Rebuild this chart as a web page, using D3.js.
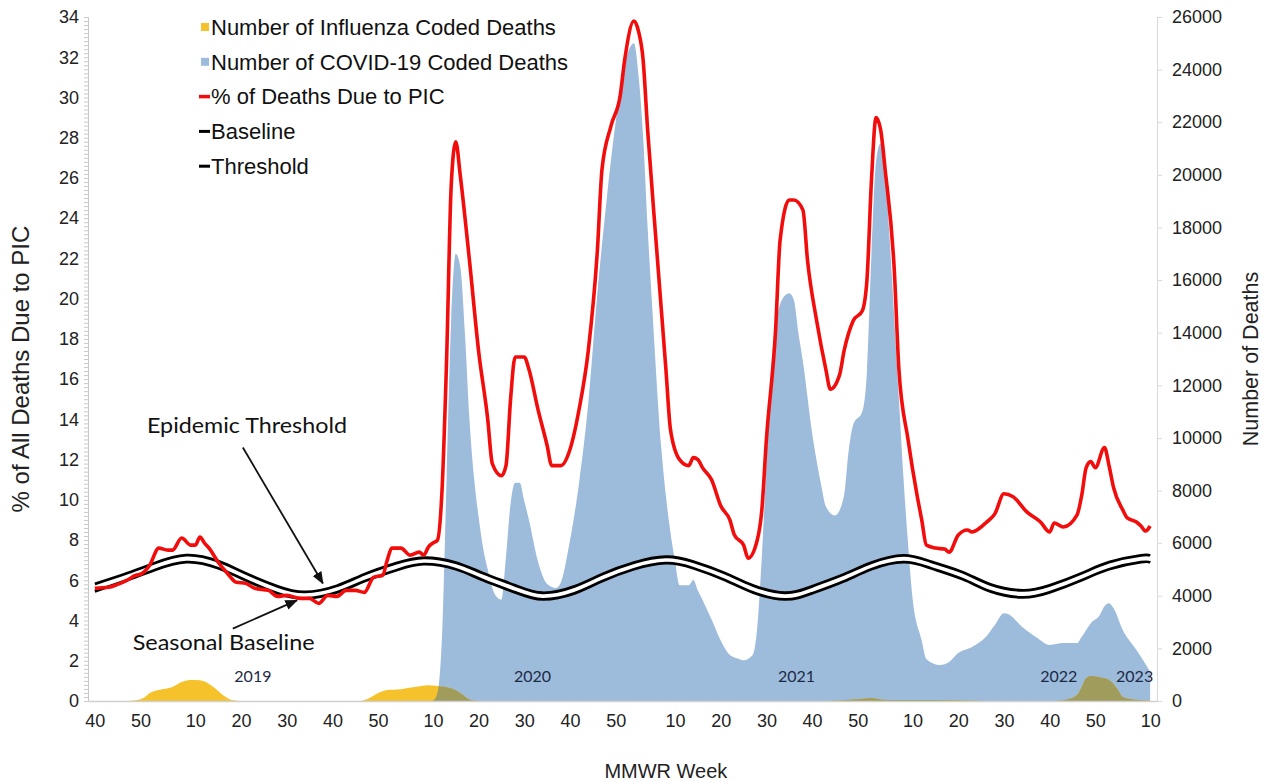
<!DOCTYPE html>
<html><head><meta charset="utf-8">
<script src="https://cdn.jsdelivr.net/npm/d3@7"></script>
<style>
body{margin:0;background:#fff}
svg{display:block}
svg{font-family:"Liberation Sans",Arial,sans-serif}
.calibri{font-family:Lato,"Open Sans",sans-serif}
</style>
</head><body><svg id="c" width="1270" height="782"></svg>
<script>
// Week index 0 = MMWR week 40 of 2018; 2019w1 = 13, 2020w1 = 65, 2021w1 = 118, 2022w1 = 170, 2023w1 = 222
const xTickWeeks = [0,10,22,32,42,52,62,74,84,94,104,114,127,137,147,157,167,179,189,199,209,219,231];
const xTickLabels = ["40","50","10","20","30","40","50","10","20","30","40","50","10","20","30","40","50","10","20","30","40","50","10"];
const leftTicks = [0,2,4,6,8,10,12,14,16,18,20,22,24,26,28,30,32,34];
const rightTicks = [0,2000,4000,6000,8000,10000,12000,14000,16000,18000,20000,22000,24000,26000];

const picWeek = [0,3,5,7,9,10,12,14,16,17,19,21,22,23,24,25,27,29,31,33,35,38,40,42,45,47,49,51,53,55,57,59,61,63,64,65,67,69,71,72,73,74,75,76,77,78,79,80,82,84,86,87,89,90,91,92,94,95,97,99,100,102,104,106,108,110,111,113,115,116,118,119,120,121,123,125,126,128,130,131,132,133,135,137,139,140,142,143,145,146,147,149,150,152,153,155,156,158,160,161,163,164,166,168,169,170,171,172,173,175,176,178,180,181,182,184,186,187,189,191,192,194,195,197,199,201,204,207,209,210,212,215,216,217,218,219,221,222,223,225,226,228,229,230,231];
const picPct = [5.6,5.65,5.8,6.0,6.25,6.3,6.75,7.6,7.5,7.5,8.1,7.75,7.75,8.15,7.85,7.6,6.9,6.35,5.9,5.85,5.6,5.5,5.2,5.25,5.1,5.1,4.85,5.25,5.2,5.5,5.5,5.4,6.15,6.25,7.0,7.6,7.6,7.25,7.4,7.25,7.65,7.85,8.0,10.5,17,25.6,27.8,26.1,21.9,17.4,14,11.8,11.2,11.7,15,17.1,17.1,16.5,14.5,12.7,11.7,11.7,12.5,14.5,17.4,22.4,26.4,28.6,30.1,31.9,33.8,33.3,31.9,28.4,22.4,16.5,13.5,12,11.7,12.1,12,11.6,11,9.7,9,8.25,7.75,7.1,8,9.5,13,18.4,22.9,24.9,24.9,24.4,21.9,18.9,16.5,15.5,16.2,17.4,18.9,19.4,20.9,25.9,29,28.4,26.4,21.4,16.5,13,10.2,9,7.75,7.6,7.55,7.4,8.25,8.5,8.4,8.65,8.85,9.3,10.3,10.15,9.4,8.9,8.4,8.85,8.65,9.25,10.2,11.6,11.9,11.6,12.6,11.7,10.6,9.5,9.1,8.9,8.7,8.45,8.7];

const covidWeek = [74,75,76,77,78,79,80,81,82,83,84,85,86,87,88,89,90,91,92,93,94,95,97,99,101,102,104,106,108,110,112,114,116,118,119,120,121,122,124,125,127,128,130,131,132,133,135,137,139,141,142,144,145,146,147,148,149,151,152,153,154,155,157,159,160,162,164,165,166,168,169,170,171,172,173,174,176,177,178,179,181,182,185,187,189,192,195,197,199,200,203,206,209,212,215,216,218,220,221,222,223,225,228,229,230,231];
const covidDeaths = [0,300,2500,8500,14500,17000,16500,14000,10700,8500,7000,5800,5000,4300,3950,3850,5500,7500,8300,8300,7600,6900,5300,4450,4300,4500,6100,8300,11300,15500,19000,22000,24200,25000,23800,21500,18000,15000,9600,7800,5300,4400,4400,4600,4200,3850,3100,2300,1750,1600,1550,1750,2800,5500,9000,12500,14300,15400,15500,15250,14000,12900,10200,8200,7400,7050,7800,9500,10500,11000,12500,17000,20500,21200,20200,17500,11500,8500,6000,3900,2300,1600,1370,1480,1820,2050,2430,2890,3340,3300,2810,2430,2130,2200,2200,2430,2960,3270,3600,3720,3530,2700,1940,1670,1400,1100];

const fluWeek = [0,7,9,11,12,14,17,19,21,23,24,26,28,30,32,58,60,62,64,67,70,73,75,78,80,82,84,160,164,168,170,172,175,185,190,195,210,212,215,216,217,218,220,222,224,225,227,231];
const fluDeaths = [0,0,30,150,300,420,530,720,800,790,740,520,230,40,0,0,100,300,420,450,530,600,570,480,300,60,0,0,30,90,110,60,40,40,20,0,0,30,230,530,870,950,900,800,420,150,70,20];

const baseWeek = [0,7,13,20,27,33,40,46,53,59,66,72,79,85,92,98,105,111,118,125,131,138,144,151,157,164,170,177,183,190,196,203,209,216,222,229,231];
const baselinePct = [5.45,6.0,6.5,6.9,6.6,6.0,5.35,5.1,5.4,5.95,6.5,6.8,6.55,6.0,5.4,5.05,5.35,5.95,6.55,6.85,6.6,6.0,5.4,5.05,5.35,5.95,6.55,6.9,6.6,6.05,5.45,5.15,5.4,6.0,6.55,6.9,6.88];
const thresholdPct = [5.82,6.35,6.85,7.25,6.95,6.35,5.7,5.42,5.73,6.3,6.85,7.12,6.88,6.35,5.75,5.38,5.7,6.3,6.88,7.17,6.93,6.35,5.75,5.38,5.7,6.3,6.88,7.24,6.93,6.4,5.8,5.5,5.75,6.35,6.9,7.24,7.22];

const legendLabels = ["Number of Influenza Coded Deaths","Number of COVID-19 Coded Deaths","% of Deaths Due to PIC","Baseline","Threshold"];
const yearLabels = ["2019","2020","2021","2022","2023"];
const yearWeeks = [34.6,95.8,153.6,211,227.6];

// ---------- drawing ----------
const W = 1270, H = 782;
const m = {left:88, right:113, top:17, bottom:81};
const svg = d3.select("#c");
const x = d3.scaleLinear().domain([-1.5, 232.5]).range([m.left, W - m.right]);
const yL = d3.scaleLinear().domain([0, 34]).range([H - m.bottom, m.top]);
const yR = d3.scaleLinear().domain([0, 26000]).range([H - m.bottom, m.top]);

const pic = picWeek.map((w,i)=>({w, v:picPct[i]}));
const covid = covidWeek.map((w,i)=>({w, v:covidDeaths[i]}));
const flu = fluWeek.map((w,i)=>({w, v:fluDeaths[i]}));
const base = baseWeek.map((w,i)=>({w, b:baselinePct[i], t:thresholdPct[i]}));

const C = {blue:"#9dbbdb", yellow:"#f5c22c", olive:"#9f9c5c", red:"#f20d0d"};

const areaR = d3.area().x(d=>x(d.w)).y0(yR(0)).y1(d=>yR(d.v)).curve(d3.curveMonotoneX);

const defs = svg.append("defs");
defs.append("clipPath").attr("id","covidClip").append("path").attr("d", areaR(covid));
defs.append("marker").attr("id","arr").attr("viewBox","0 0 10 10").attr("refX",9).attr("refY",5)
  .attr("markerWidth",7).attr("markerHeight",7).attr("orient","auto-start-reverse")
  .append("path").attr("d","M0,1 L10,5 L0,9 z").attr("fill","#111");

// areas
svg.append("path").attr("d", areaR(covid)).attr("fill", C.blue);
svg.append("path").attr("d", areaR(flu)).attr("fill", C.yellow);
svg.append("path").attr("d", areaR(flu)).attr("fill", C.olive).attr("clip-path","url(#covidClip)");

// axes
const gx = svg.append("g").attr("transform",`translate(0,${yL(0)})`)
  .call(d3.axisBottom(x).tickValues(xTickWeeks).tickFormat((d,i)=>xTickLabels[i]).tickSize(0).tickPadding(13));
gx.select(".domain").attr("stroke","#d0d0d0").attr("stroke-width",1.5);
gx.selectAll("text").style("font-family","'Liberation Sans',Arial,sans-serif").attr("font-size",18).attr("fill","#222");

const gMinor = svg.append("g").attr("transform",`translate(${m.left},0)`)
  .call(d3.axisLeft(yL).tickValues(d3.range(0, 34.001, 0.2)).tickSize(4).tickFormat(""));
gMinor.selectAll("line").attr("stroke","#c8c8c8");
gMinor.select(".domain").attr("stroke","#c8c8c8");
const gyl = svg.append("g").attr("transform",`translate(${m.left},0)`)
  .call(d3.axisLeft(yL).tickValues(leftTicks).tickSize(0).tickPadding(9));
gyl.select(".domain").remove();
gyl.selectAll("text").style("font-family","'Liberation Sans',Arial,sans-serif").attr("font-size",18).attr("fill","#222");

const gyr = svg.append("g").attr("transform",`translate(${W - m.right},0)`)
  .call(d3.axisRight(yR).tickValues(rightTicks).tickFormat(d3.format("d")).tickSize(5).tickPadding(10));
gyr.select(".domain").attr("stroke","#d8d8d8");
gyr.selectAll("line").attr("stroke","#d8d8d8");
gyr.selectAll("text").style("font-family","'Liberation Sans',Arial,sans-serif").attr("font-size",18).attr("fill","#222");

// baseline / threshold double line
const lineB = d3.line().x(d=>x(d.w)).y(d=>yL(d.b)).curve(d3.curveNatural);
const lineT = d3.line().x(d=>x(d.w)).y(d=>yL(d.t)).curve(d3.curveNatural);
const lineMid = d3.line().x(d=>x(d.w)).y(d=>yL((d.b+d.t)/2)).curve(d3.curveNatural);
svg.append("path").attr("d", lineMid(base)).attr("fill","none").attr("stroke","#fff").attr("stroke-width",6);
svg.append("path").attr("d", lineB(base)).attr("fill","none").attr("stroke","#000").attr("stroke-width",2.8);
svg.append("path").attr("d", lineT(base)).attr("fill","none").attr("stroke","#000").attr("stroke-width",2.8);

// PIC line
const lineP = d3.line().x(d=>x(d.w)).y(d=>yL(d.v)).curve(d3.curveMonotoneX);
svg.append("path").attr("d", lineP(pic)).attr("fill","none").attr("stroke",C.red)
  .attr("stroke-width",3.6).attr("stroke-linejoin","round");

// year labels
svg.append("g").selectAll("text").data(yearLabels).join("text").attr("class","calibri")
  .attr("x",(d,i)=>x(yearWeeks[i])).attr("y",yL(1.2)).attr("text-anchor","middle").attr("dy","0.35em")
  .attr("font-size",16).attr("fill","#1c2a45").text(d=>d);

// annotations
const ann = svg.append("g").attr("fill","#111");
ann.append("text").attr("class","calibri").attr("x",x(33.3)).attr("y",yL(13.7)).attr("dy","0.35em").attr("text-anchor","middle")
  .attr("font-size",22).attr("textLength",200).attr("lengthAdjust","spacingAndGlyphs").text("Epidemic Threshold");
ann.append("line").attr("x1",x(32.4)).attr("y1",yL(12.6)).attr("x2",x(49.9)).attr("y2",yL(5.85))
  .attr("stroke","#111").attr("stroke-width",1.8).attr("marker-end","url(#arr)");
ann.append("text").attr("class","calibri").attr("x",x(28.2)).attr("y",yL(2.9)).attr("dy","0.35em").attr("text-anchor","middle")
  .attr("font-size",22).attr("textLength",182).attr("lengthAdjust","spacingAndGlyphs").text("Seasonal Baseline");
ann.append("line").attr("x1",x(30.2)).attr("y1",yL(3.6)).attr("x2",x(44.2)).attr("y2",yL(5.0))
  .attr("stroke","#111").attr("stroke-width",1.8).attr("marker-end","url(#arr)");

// axis titles
svg.append("text").attr("transform",`translate(29,${yL(16.5)}) rotate(-90)`).attr("text-anchor","middle")
  .attr("font-size",24).attr("fill","#222").text("% of All Deaths Due to PIC");
svg.append("text").attr("transform",`translate(1258,${yL(17)}) rotate(-90)`).attr("text-anchor","middle")
  .attr("font-size",21.5).attr("fill","#222").text("Number of Deaths");
svg.append("text").attr("x",x(125)).attr("y",778).attr("text-anchor","middle")
  .attr("font-size",20).attr("fill","#222").text("MMWR Week");

// legend
const lg = svg.append("g");
const rowY = i => 27 + i*34.8;
const mk = [
  g=>g.append("rect").attr("x",201).attr("y",-4).attr("width",8).attr("height",8).attr("fill",C.yellow),
  g=>g.append("rect").attr("x",201).attr("y",-4).attr("width",8).attr("height",8).attr("fill",C.blue),
  g=>g.append("line").attr("x1",199).attr("x2",210).attr("stroke",C.red).attr("stroke-width",3.5),
  g=>g.append("line").attr("x1",199).attr("x2",210).attr("stroke","#000").attr("stroke-width",3),
  g=>g.append("line").attr("x1",199).attr("x2",210).attr("stroke","#000").attr("stroke-width",3)
];
legendLabels.forEach((t,i)=>{
  const g = lg.append("g").attr("transform",`translate(0,${rowY(i)})`);
  mk[i](g);
  g.append("text").attr("x",211).attr("dy","0.35em").attr("font-size",22).attr("fill","#111").text(t);
});
</script></body></html>
